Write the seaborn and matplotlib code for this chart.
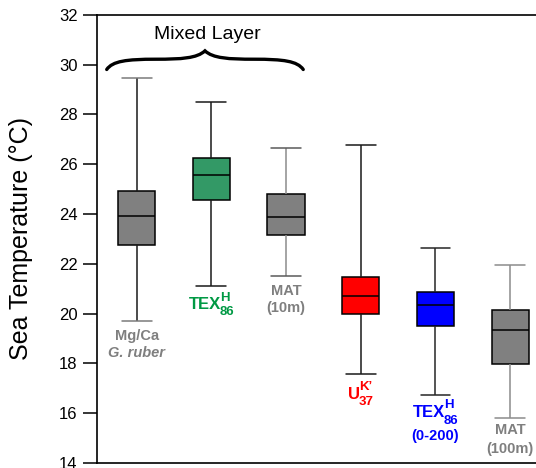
import numpy as np
import pandas as pd
import matplotlib
matplotlib.use("Agg")
import matplotlib.pyplot as plt
import seaborn as sns
from matplotlib.path import Path
from matplotlib.patches import PathPatch

# Five-number summaries of each temperature proxy (deg C)
proxies = ["Mg/Ca", "TEX86H ML", "MAT 10m", "UK37", "TEX86H 0-200", "MAT 100m"]
whisker_low = [19.70, 21.10, 21.49, 17.58, 16.73, 15.80]
q1 = [22.74, 24.57, 23.16, 19.98, 19.52, 17.96]
median = [23.91, 25.57, 23.88, 20.70, 20.33, 19.33]
q3 = [24.93, 26.26, 24.80, 21.48, 20.85, 20.15]
whisker_high = [29.44, 28.48, 26.66, 26.76, 22.64, 21.94]

box_colors = ["#808080", "#339966", "#808080", "#FF0000", "#0000FF", "#808080"]
whisker_colors = ["#1a1a1a", "#1a1a1a", "#8c8c8c", "#1a1a1a", "#262626", "#8c8c8c"]
cap_colors = ["#7a7a7a", "#1a1a1a", "#5a5a5a", "#1a1a1a", "#262626", "#8c8c8c"]

GRAY = "#7f7f7f"
GREEN = "#009944"
RED = "#FF0000"
BLUE = "#0000FF"

# Plain proxy names: (box, text, color, style, pixels below the lower whisker)
plain_labels = [
    (0, "Mg/Ca", GRAY, "normal", 15),
    (0, "G. ruber", GRAY, "italic", 32),
    (2, "MAT", GRAY, "normal", 15),
    (2, "(10m)", GRAY, "normal", 32),
    (4, "(0-200)", BLUE, "normal", 41),
    (5, "MAT", GRAY, "normal", 12),
    (5, "(100m)", GRAY, "normal", 31),
]
# Proxy names with stacked super/subscripts:
# (box, base, superscript, subscript, color, baseline below whisker, raise, drop)
scripted_labels = [
    (1, "TEX", "H", "86", GREEN, 22.6, 7.5, 6.7),
    (3, "U", "K\u2019", "37", RED, 25.3, 9.0, 5.5),
    (4, "TEX", "H", "86", BLUE, 22.3, 9.0, 6.7),
]

sns.set_style("white")
plt.rcParams["font.family"] = ["Liberation Sans", "DejaVu Sans"]
plt.rcParams["text.color"] = "black"
plt.rcParams["axes.labelcolor"] = "black"

# With five points per group the quartiles fall exactly on the summary values
rows = []
for name, lo, a, m, b, hi in zip(proxies, whisker_low, q1, median, q3, whisker_high):
    for v in (lo, a, m, b, hi):
        rows.append({"proxy": name, "temp": v})
df = pd.DataFrame(rows)

fig = plt.figure(figsize=(5.36, 4.68), dpi=100)
ax = fig.add_axes([97 / 536, 5 / 468, 439 / 536, 448.3 / 468])

sns.boxplot(data=df, x="proxy", y="temp", hue="proxy", order=proxies,
            hue_order=proxies, palette=dict(zip(proxies, box_colors)),
            saturation=1, width=0.5, whis=(0, 100), showfliers=False,
            linecolor="black", linewidth=1.1, legend=False, ax=ax)

# Recolour whiskers and caps per proxy, and narrow the caps
for line in ax.lines:
    xd = np.asarray(line.get_xdata(), float)
    yd = np.asarray(line.get_ydata(), float)
    if len(xd) < 2:
        continue
    i = int(round(xd.mean()))
    if abs(xd[0] - xd[-1]) < 1e-9:
        line.set_color(whisker_colors[i])
        line.set_linewidth(1.1)
    elif abs(yd[0] - yd[-1]) < 1e-9:
        y = yd[0]
        if abs(y - whisker_low[i]) < 1e-6 or abs(y - whisker_high[i]) < 1e-6:
            line.set_xdata([i - 0.2, i + 0.2])
            line.set_color(cap_colors[i])
            line.set_linewidth(1.1)
        else:
            line.set_color("black")

ax.set_xlim(-0.53, 5.345)
ax.set_ylim(14, 32)
ax.set_yticks(np.arange(14, 33, 2))
ax.set_xticks([])
ax.set_xlabel("")
ax.set_ylabel("Sea Temperature (\u00b0C)", fontsize=18)
ax.yaxis.set_label_coords(-0.146, 0.5)
ax.tick_params(axis="y", direction="out", length=10, width=1.1, pad=4,
               labelsize=12, colors="black", left=True)
for side in ("left", "top", "bottom"):
    ax.spines[side].set_visible(True)
    ax.spines[side].set_color("black")
    ax.spines[side].set_linewidth(1.2)
ax.spines["right"].set_visible(False)

# Proxy names under each box
for i, text, color, style, off in plain_labels:
    ax.annotate(text, xy=(i, whisker_low[i]), xytext=(0, -off),
                textcoords="offset pixels", ha="center", va="center",
                color=color, fontsize=10.5, fontweight="bold",
                fontstyle=style, annotation_clip=False)

renderer = fig.canvas.get_renderer()


def text_width(s, size):
    t = fig.text(0, 0, s, fontsize=size, fontweight="bold")
    w = t.get_window_extent(renderer).width
    t.remove()
    return w


main_size, script_size = 12, 9.5
for i, base, sup, sub, color, below, rise, drop in scripted_labels:
    wm = text_width(base, main_size)
    ws = max(text_width(sup, script_size), text_width(sub, script_size))
    gap = -1.0
    x0 = -(wm + gap + ws) / 2
    kw = dict(xy=(i, whisker_low[i]), textcoords="offset pixels",
              ha="left", va="baseline", color=color, fontweight="bold",
              annotation_clip=False)
    ax.annotate(base, xytext=(x0, -below), fontsize=main_size, **kw)
    ax.annotate(sup, xytext=(x0 + wm + gap, -below + rise),
                fontsize=script_size, **kw)
    ax.annotate(sub, xytext=(x0 + wm + gap, -below - drop),
                fontsize=script_size, **kw)

# Curly brace grouping the mixed-layer proxies
left, right = -0.40, 2.23
base_y, height = 29.8, 0.75
shape = [(0, 0),
         (0.03, 0.45), (0.10, 0.55), (0.25, 0.55),
         (0.38, 0.55), (0.46, 0.60), (0.50, 1.0),
         (0.54, 0.60), (0.62, 0.55), (0.75, 0.55),
         (0.90, 0.55), (0.97, 0.45), (1.0, 0)]
verts = [(left + u * (right - left), base_y + v * height) for u, v in shape]
codes = [Path.MOVETO] + [Path.CURVE4] * 12
ax.add_patch(PathPatch(Path(verts, codes), facecolor="none", edgecolor="black",
                       linewidth=2.4, capstyle="round", clip_on=False))
ax.text(0.95, 31.2, "Mixed Layer", ha="center", va="center", fontsize=14,
        color="black")

fig.savefig("out.png", dpi=100)
